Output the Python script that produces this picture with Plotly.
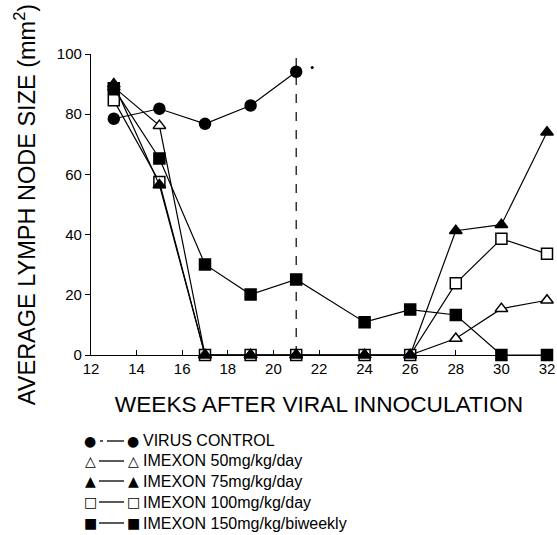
import plotly.graph_objects as go

weeks = [13, 15, 17, 19, 21, 24, 26, 28, 30, 32]
virus_weeks = [13, 15, 17, 19, 21]
virus_control = [78.5, 81.8, 76.8, 82.9, 94.1]
imexon_50 = [89, 76.2, 0, 0, 0, 0, 0, 5.5, 15.4, 18.2]
imexon_75 = [90, 56.5, 0, 0, 0, 0, 0, 41.3, 43.3, 74.0]
imexon_100 = [84.6, 57.5, 0, 0, 0, 0, 0, 23.8, 38.6, 33.6]
imexon_150 = [88.6, 65.3, 30.1, 20.1, 25.1, 10.9, 15.1, 13.3, 0, 0]
signif_week = [21.7]
signif_value = [95.5]
cutoff_week = 21

x_ticks = [12, 14, 16, 18, 20, 22, 24, 26, 28, 30, 32]
y_ticks = [0, 20, 40, 60, 80, 100]

legend_glyphs = ["\u25cf", "\u25b3", "\u25b2", "\u25a1", "\u25a0"]
legend_labels = ["VIRUS CONTROL", "IMEXON 50mg/kg/day", "IMEXON 75mg/kg/day",
                 "IMEXON 100mg/kg/day", "IMEXON 150mg/kg/biweekly"]

FONT = "Liberation Sans"
W, H = 557, 535
L, R, T, B = 91, 10, 54, 180
pw, ph = W - L - R, H - T - B


def px2paper(px, py):
    return (px - L) / pw, (H - B - py) / ph


fig = go.Figure()

def add_series(x, y, symbol, fill):
    fig.add_trace(go.Scatter(
        x=x, y=y, mode="lines+markers", cliponaxis=False, showlegend=False,
        line=dict(color="black", width=1.2),
        marker=dict(symbol=symbol, size=11, color=fill,
                    line=dict(color="black", width=1.5)),
    ))

add_series(weeks, imexon_100, "square", "white")
add_series(weeks, imexon_50, "triangle-up", "white")
add_series(weeks, imexon_75, "triangle-up", "black")
add_series(weeks, imexon_150, "square", "black")
add_series(virus_weeks, virus_control, "circle", "black")

fig.add_trace(go.Scatter(x=signif_week, y=signif_value, mode="markers", showlegend=False,
                         cliponaxis=False, marker=dict(size=3, color="black")))

fig.add_shape(type="line", x0=cutoff_week, x1=cutoff_week, y0=0, y1=101,
              xref="x", yref="y", line=dict(color="black", width=1.2, dash="dash"))

row_y = [441, 461, 481, 502, 523]
for i, (glyph, lab, py) in enumerate(zip(legend_glyphs, legend_labels, row_y)):
    for cx in (90, 133):
        gx, gy = px2paper(cx, py)
        fig.add_annotation(x=gx, y=gy, xref="paper", yref="paper", text=glyph, showarrow=False,
                           xanchor="center", yanchor="middle",
                           font=dict(family="DejaVu Sans", size=14, color="black"))
    segs = [(100, 103), (107, 124)] if i == 0 else [(99, 124)]
    for a, b in segs:
        xa, ya = px2paper(a, py)
        xb, _ = px2paper(b, py)
        fig.add_shape(type="line", xref="paper", yref="paper", x0=xa, x1=xb, y0=ya, y1=ya,
                      line=dict(color="black", width=1.3))
    xt, yt = px2paper(141, py)
    fig.add_annotation(x=xt, y=yt, xref="paper", yref="paper", text=lab, showarrow=False,
                       xanchor="left", yanchor="middle", font=dict(family=FONT, size=16, color="black"))

fig.update_xaxes(range=[12, 32], tickvals=x_ticks, ticktext=[str(v) for v in x_ticks],
                 showgrid=False, zeroline=False, showline=True, linecolor="black", linewidth=1.2,
                 ticks="inside", ticklen=5, tickcolor="black",
                 tickfont=dict(family=FONT, size=15, color="black"),
                 title=dict(text="WEEKS AFTER VIRAL INNOCULATION", standoff=20,
                            font=dict(family=FONT, size=22.7, color="black")))
fig.update_yaxes(range=[0, 100], tickvals=y_ticks, ticktext=[str(v) for v in y_ticks],
                 showgrid=False, zeroline=False, showline=True, linecolor="black", linewidth=1.2,
                 ticks="outside", ticklen=5, tickcolor="black",
                 tickfont=dict(family=FONT, size=15, color="black"),
                 title=dict(text="AVERAGE LYMPH NODE SIZE (mm<sup>2</sup>)", standoff=14,
                            font=dict(family=FONT, size=23.5, color="black")))

fig.update_layout(width=W, height=H, margin=dict(l=L, r=R, t=T, b=B, autoexpand=False),
                  plot_bgcolor="white", paper_bgcolor="white")

fig.write_html("out.html")
